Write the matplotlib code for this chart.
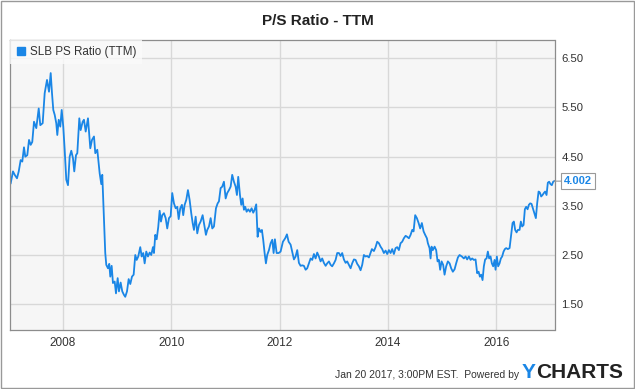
import matplotlib
matplotlib.use('Agg')
import matplotlib.pyplot as plt
from matplotlib.lines import Line2D
from matplotlib.patches import Rectangle

# SLB price / sales ratio (TTM), dates as decimal years
DATES = [
    2007.039, 2007.081, 2007.113, 2007.155, 2007.187, 2007.223, 2007.253, 2007.284, 2007.308, 2007.345,
    2007.377, 2007.408, 2007.437, 2007.469, 2007.511, 2007.556, 2007.585, 2007.629, 2007.666, 2007.709,
    2007.746, 2007.777, 2007.801, 2007.825, 2007.851, 2007.880, 2007.899, 2007.925, 2007.954, 2007.980,
    2008.009, 2008.035, 2008.065, 2008.096, 2008.127, 2008.157, 2008.188, 2008.212, 2008.244, 2008.268,
    2008.305, 2008.330, 2008.367, 2008.391, 2008.423, 2008.465, 2008.508, 2008.539, 2008.576, 2008.600,
    2008.637, 2008.681, 2008.711, 2008.729, 2008.755, 2008.784, 2008.803, 2008.834, 2008.858, 2008.877,
    2008.902, 2008.926, 2008.958, 2008.982, 2009.013, 2009.037, 2009.068, 2009.098, 2009.129, 2009.153,
    2009.185, 2009.216, 2009.246, 2009.277, 2009.308, 2009.338, 2009.364, 2009.393, 2009.430, 2009.456,
    2009.485, 2009.511, 2009.541, 2009.572, 2009.604, 2009.633, 2009.664, 2009.683, 2009.707, 2009.733,
    2009.762, 2009.788, 2009.812, 2009.836, 2009.867, 2009.899, 2009.928, 2009.960, 2009.991, 2010.020,
    2010.052, 2010.083, 2010.113, 2010.139, 2010.168, 2010.199, 2010.223, 2010.249, 2010.279, 2010.310,
    2010.341, 2010.371, 2010.397, 2010.421, 2010.452, 2010.482, 2010.513, 2010.544, 2010.581, 2010.611,
    2010.642, 2010.666, 2010.698, 2010.729, 2010.759, 2010.790, 2010.827, 2010.858, 2010.882, 2010.913,
    2010.943, 2010.974, 2011.006, 2011.035, 2011.067, 2011.098, 2011.127, 2011.159, 2011.190, 2011.214,
    2011.238, 2011.270, 2011.294, 2011.319, 2011.343, 2011.367, 2011.393, 2011.423, 2011.454, 2011.485,
    2011.515, 2011.541, 2011.570, 2011.596, 2011.620, 2011.651, 2011.675, 2011.699, 2011.725, 2011.749,
    2011.773, 2011.805, 2011.836, 2011.866, 2011.891, 2011.915, 2011.947, 2011.984, 2012.020, 2012.063,
    2012.105, 2012.137, 2012.168, 2012.205, 2012.234, 2012.266, 2012.297, 2012.327, 2012.358, 2012.389,
    2012.419, 2012.450, 2012.482, 2012.511, 2012.543, 2012.574, 2012.604, 2012.635, 2012.666, 2012.696,
    2012.727, 2012.758, 2012.788, 2012.819, 2012.851, 2012.880, 2012.912, 2012.943, 2012.972, 2013.004,
    2013.035, 2013.065, 2013.096, 2013.127, 2013.157, 2013.188, 2013.220, 2013.249, 2013.281, 2013.312,
    2013.341, 2013.373, 2013.404, 2013.434, 2013.465, 2013.496, 2013.526, 2013.557, 2013.589, 2013.618,
    2013.650, 2013.705, 2013.742, 2013.773, 2013.803, 2013.834, 2013.865, 2013.895, 2013.926, 2013.958,
    2013.987, 2014.019, 2014.050, 2014.080, 2014.111, 2014.142, 2014.172, 2014.203, 2014.234, 2014.264,
    2014.295, 2014.327, 2014.356, 2014.388, 2014.419, 2014.449, 2014.474, 2014.504, 2014.535, 2014.567,
    2014.596, 2014.627, 2014.659, 2014.688, 2014.720, 2014.738, 2014.769, 2014.788, 2014.806, 2014.830,
    2014.862, 2014.891, 2014.917, 2014.941, 2014.965, 2014.991, 2015.020, 2015.046, 2015.076, 2015.107,
    2015.139, 2015.168, 2015.199, 2015.231, 2015.260, 2015.292, 2015.323, 2015.365, 2015.402, 2015.434,
    2015.463, 2015.495, 2015.526, 2015.556, 2015.587, 2015.618, 2015.648, 2015.674, 2015.698, 2015.722,
    2015.747, 2015.771, 2015.795, 2015.821, 2015.845, 2015.869, 2015.895, 2015.919, 2015.943, 2015.969,
    2015.987, 2016.011, 2016.035, 2016.061, 2016.085, 2016.109, 2016.135, 2016.159, 2016.183, 2016.214,
    2016.246, 2016.275, 2016.301, 2016.325, 2016.349, 2016.375, 2016.399, 2016.430, 2016.454, 2016.478,
    2016.504, 2016.528, 2016.552, 2016.578, 2016.602, 2016.626, 2016.651, 2016.681, 2016.707, 2016.731,
    2016.755, 2016.781, 2016.805, 2016.829, 2016.854, 2016.878, 2016.902, 2016.928, 2016.952, 2016.976,
    2017.002, 2017.026, 2017.050, 2017.070,
]
PS_RATIO = [
    3.96, 4.20, 4.13, 4.06, 4.20, 4.43, 4.40, 4.69, 4.50, 4.53,
    4.84, 4.74, 4.80, 5.21, 5.08, 5.48, 5.14, 5.18, 5.79, 6.06,
    5.82, 6.20, 5.79, 5.45, 5.35, 5.18, 4.94, 5.25, 5.11, 5.45,
    5.11, 4.64, 4.03, 3.92, 4.50, 4.62, 4.47, 4.20, 4.53, 4.57,
    5.28, 5.04, 5.21, 5.25, 5.01, 5.28, 4.67, 4.84, 4.91, 4.57,
    4.64, 4.16, 3.94, 4.13, 3.35, 2.54, 2.30, 2.23, 2.32, 2.06,
    2.28, 1.93, 1.96, 1.72, 2.03, 1.76, 1.94, 1.76, 1.69, 1.65,
    1.76, 2.01, 1.91, 2.06, 2.10, 2.50, 2.40, 2.47, 2.66, 2.47,
    2.54, 2.33, 2.57, 2.47, 2.55, 2.50, 2.66, 2.54, 2.91, 2.82,
    3.07, 3.40, 3.18, 3.31, 3.35, 3.25, 3.04, 3.25, 3.29, 3.76,
    3.55, 3.45, 3.48, 3.23, 3.45, 3.52, 3.31, 3.52, 3.62, 3.82,
    3.62, 3.35, 3.15, 3.01, 3.28, 2.94, 3.11, 3.18, 3.31, 3.11,
    2.91, 3.01, 3.08, 3.25, 3.04, 3.08, 3.45, 3.55, 3.59, 3.86,
    3.89, 3.99, 3.65, 3.76, 3.82, 3.89, 4.13, 3.99, 3.89, 3.72,
    4.09, 3.72, 3.52, 3.65, 3.42, 3.48, 3.38, 3.43, 3.38, 3.45,
    3.36, 3.42, 3.53, 2.87, 3.04, 2.97, 3.01, 2.81, 2.54, 2.33,
    2.50, 2.60, 2.74, 2.81, 2.54, 2.82, 2.54, 2.54, 2.57, 2.77,
    2.84, 2.92, 2.77, 2.71, 2.57, 2.41, 2.47, 2.60, 2.34, 2.28,
    2.29, 2.28, 2.20, 2.23, 2.33, 2.43, 2.40, 2.52, 2.43, 2.55,
    2.47, 2.37, 2.43, 2.34, 2.28, 2.33, 2.37, 2.30, 2.27, 2.33,
    2.40, 2.54, 2.54, 2.48, 2.54, 2.41, 2.34, 2.37, 2.30, 2.23,
    2.33, 2.41, 2.40, 2.32, 2.27, 2.19, 2.30, 2.50, 2.47, 2.48,
    2.45, 2.62, 2.58, 2.66, 2.77, 2.74, 2.67, 2.62, 2.54, 2.59,
    2.52, 2.60, 2.54, 2.62, 2.52, 2.64, 2.66, 2.60, 2.74, 2.77,
    2.84, 2.89, 2.87, 2.84, 2.91, 3.01, 2.98, 3.31, 3.25, 3.15,
    3.04, 3.15, 2.98, 2.91, 2.84, 2.74, 2.64, 2.43, 2.67, 2.60,
    2.67, 2.60, 2.37, 2.40, 2.20, 2.37, 2.30, 2.10, 2.27, 2.37,
    2.33, 2.23, 2.16, 2.21, 2.33, 2.45, 2.50, 2.47, 2.43, 2.47,
    2.41, 2.47, 2.40, 2.43, 2.40, 2.41, 2.13, 2.16, 2.06, 2.10,
    1.99, 2.27, 2.41, 2.43, 2.57, 2.43, 2.47, 2.33, 2.27, 2.40,
    2.20, 2.47, 2.27, 2.33, 2.43, 2.47, 2.57, 2.62, 2.64, 2.62,
    2.64, 2.91, 3.15, 3.18, 3.01, 2.96, 3.01, 3.01, 3.18, 3.08,
    3.11, 3.43, 3.48, 3.43, 3.52, 3.55, 3.54, 3.43, 3.33, 3.25,
    3.55, 3.79, 3.77, 3.69, 3.72, 3.76, 3.79, 3.72, 3.97, 3.99,
    3.94, 3.92, 3.99, 4.002,
]
YEAR_TICKS = [2008, 2010, 2012, 2014, 2016]
VALUE_TICKS = [1.5, 2.5, 3.5, 4.5, 5.5, 6.5]

BLUE = '#1a86e6'
plt.rcParams['font.family'] = ['Liberation Sans', 'DejaVu Sans']

fig = plt.figure(figsize=(6.35, 3.89), dpi=100)
ax = fig.add_axes([10 / 635, 1 - 330 / 389, 544.5 / 635, 290 / 389])
ax.set_facecolor('#f6f6f6')

ax.plot(DATES, PS_RATIO, color=BLUE, lw=1.3, solid_joinstyle='round')

ax.set_xlim(2007.026, 2017.075)
ax.set_ylim(0.975, 6.872)
ax.set_xticks(YEAR_TICKS)
ax.set_xticklabels([str(y) for y in YEAR_TICKS])
ax.set_yticks(VALUE_TICKS)
ax.set_yticklabels(['%.2f' % v for v in VALUE_TICKS])
ax.yaxis.tick_right()
ax.tick_params(axis='both', length=0, colors='#333333')
ax.tick_params(axis='x', labelsize=8.5, pad=5)
ax.tick_params(axis='y', labelsize=8.2, pad=5)
ax.grid(True, color='#d8d8d8', lw=1.0)
ax.set_axisbelow(True)
for s in ax.spines.values():
    s.set_color('#8c8c8c')
    s.set_linewidth(0.9)

handle = Line2D([], [], marker='s', color=BLUE, ls='none', markersize=6)
leg = ax.legend([handle], ['SLB PS Ratio (TTM)'], loc='upper left', fontsize=8.4,
                frameon=True, fancybox=False, facecolor='#fbfbfb', edgecolor='none',
                framealpha=0.8, borderaxespad=0, handlelength=0.8, handletextpad=0.4,
                borderpad=0.5)
for t in leg.get_texts():
    t.set_color('#333333')

# last value callout
ax.annotate('%.3f' % PS_RATIO[-1], xy=(DATES[-1], PS_RATIO[-1]), xytext=(7, 0),
            textcoords='offset points', ha='left', va='center', fontsize=8,
            fontweight='bold', color=BLUE, annotation_clip=False,
            bbox=dict(boxstyle='square,pad=0.25', fc='white', ec='#999999', lw=0.8),
            arrowprops=dict(arrowstyle='-', color='#999999', lw=0.8, shrinkA=0, shrinkB=0))

fig.text(0.5, 1 - 21 / 389, 'P/S Ratio - TTM', ha='center', va='center',
         fontsize=11, fontweight='bold', color='#222222')
fig.text(519 / 635, 1 - 375 / 389, 'Jan 20 2017, 3:00PM EST.  Powered by', ha='right',
         va='center', fontsize=7.5, color='#333333')
fig.text(522 / 635, 1 - 373 / 389, 'Y', ha='left', va='center', fontsize=15,
         fontweight='bold', color=BLUE)
fig.text(536 / 635, 1 - 373 / 389, 'CHARTS', ha='left', va='center', fontsize=15,
         fontweight='bold', color='#222222')

fig.patches.append(Rectangle((0.0008, 0.0013), 0.9984, 0.9974, transform=fig.transFigure,
                             fill=False, ec='#999999', lw=1.0))

fig.savefig('out.png', dpi=100)
